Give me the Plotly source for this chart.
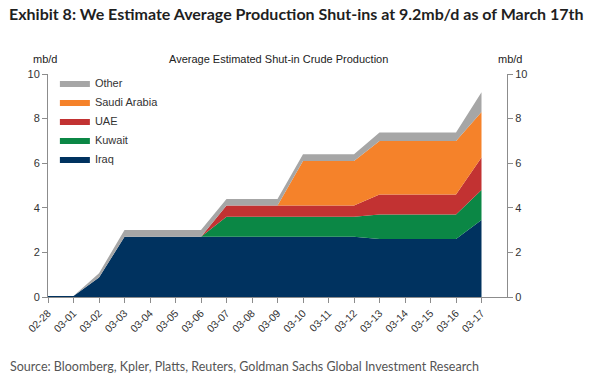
import plotly.graph_objects as go

dates = ["02-28", "03-01", "03-02", "03-03", "03-04", "03-05", "03-06", "03-07", "03-08",
         "03-09", "03-10", "03-11", "03-12", "03-13", "03-14", "03-15", "03-16", "03-17"]
iraq = [0.05, 0.05, 0.87, 2.7, 2.7, 2.7, 2.7, 2.7, 2.7, 2.7, 2.7, 2.7, 2.7, 2.6, 2.6, 2.6, 2.6, 3.45]
kuwait = [0, 0, 0, 0, 0, 0, 0, 0.9, 0.9, 0.9, 0.9, 0.9, 0.9, 1.1, 1.1, 1.1, 1.1, 1.35]
uae = [0, 0, 0, 0, 0, 0, 0, 0.5, 0.5, 0.5, 0.5, 0.5, 0.5, 0.9, 0.9, 0.9, 0.9, 1.45]
saudi = [0, 0, 0, 0, 0, 0, 0, 0, 0, 0, 2.0, 2.0, 2.0, 2.4, 2.4, 2.4, 2.4, 2.05]
other = [0, 0, 0.2, 0.3, 0.3, 0.3, 0.3, 0.3, 0.3, 0.3, 0.3, 0.3, 0.3, 0.38, 0.38, 0.38, 0.38, 0.88]

series = [
    ("Iraq", iraq, "#00325F"),
    ("Kuwait", kuwait, "#0B8745"),
    ("UAE", uae, "#C23232"),
    ("Saudi Arabia", saudi, "#F5822A"),
    ("Other", other, "#A6A6A6"),
]
y_ticks = [0, 2, 4, 6, 8, 10]

fig = go.Figure()
for name, vals, col in series:
    fig.add_trace(go.Scatter(
        x=dates, y=vals, name=name, stackgroup="one", mode="lines",
        line=dict(width=0, color=col), fillcolor=col,
    ))
# invisible trace for right axis
fig.add_trace(go.Scatter(x=dates, y=[None] * len(dates), yaxis="y2", showlegend=False,
                         hoverinfo="skip"))

FONT = "Liberation Sans, Arial, sans-serif"
axis_font = dict(family=FONT, size=11, color="#333333")
W, H = 603, 386
l, r, t, b = 48, 96, 74, 89
pw, ph = W - l - r, H - t - b

fig.update_layout(
    width=W, height=H,
    margin=dict(l=l, r=r, t=t, b=b, autoexpand=False),
    paper_bgcolor="white", plot_bgcolor="white",
    showlegend=True,
    legend=dict(
        x=0.015, y=1.025, xanchor="left", yanchor="top",
        traceorder="reversed", font=dict(family=FONT, size=11, color="#333333"),
        bgcolor="rgba(0,0,0,0)", itemwidth=30, tracegroupgap=0,
    ),
    xaxis=dict(
        type="category", range=[0, 18], showgrid=False, zeroline=False, automargin=False,
        showline=True, linecolor="#8c8c8c", linewidth=1,
        ticks="outside", ticklen=5, tickcolor="#8c8c8c",
        tickangle=-45, tickfont=dict(family=FONT, size=10.5, color="#333333"),
    ),
    yaxis=dict(
        range=[0, 10], tickvals=y_ticks, showgrid=False, zeroline=False, automargin=False,
        showline=True, linecolor="#8c8c8c", linewidth=1,
        ticks="outside", ticklen=5, tickcolor="#8c8c8c", tickfont=axis_font,
    ),
    yaxis2=dict(
        range=[0, 10], tickvals=y_ticks, overlaying="y", side="right", automargin=False,
        showgrid=False, zeroline=False,
        showline=True, linecolor="#8c8c8c", linewidth=1,
        ticks="outside", ticklen=5, tickcolor="#8c8c8c", tickfont=axis_font,
    ),
)


def px(xp):
    return (xp - l) / pw


def py(yp):
    return (H - b - yp) / ph


fig.add_annotation(text="<b>Exhibit 8: We Estimate Average Production Shut-ins at 9.2mb/d as of March 17th</b>",
                   xref="paper", yref="paper", x=px(7), y=py(14), xanchor="left", yanchor="middle",
                   showarrow=False, font=dict(family="Lato, sans-serif", size=16, color="#1f1f1f"))
fig.add_annotation(text="Average Estimated Shut-in Crude Production",
                   xref="paper", yref="paper", x=px(278), y=py(59), xanchor="center", yanchor="middle",
                   showarrow=False, font=dict(family=FONT, size=11, color="#222222"))
fig.add_annotation(text="mb/d", xref="paper", yref="paper", x=px(45), y=py(59), xanchor="center",
                   yanchor="middle", showarrow=False, font=dict(family=FONT, size=11, color="#222222"))
fig.add_annotation(text="mb/d", xref="paper", yref="paper", x=px(510), y=py(59), xanchor="center",
                   yanchor="middle", showarrow=False, font=dict(family=FONT, size=11, color="#222222"))
fig.add_annotation(text="Source: Bloomberg, Kpler, Platts, Reuters, Goldman Sachs Global Investment Research",
                   xref="paper", yref="paper", x=px(8), y=py(366), xanchor="left", yanchor="middle",
                   showarrow=False, font=dict(family="Lato, sans-serif", size=12.5, color="#555555"))

fig.write_html("out.html", config={"displayModeBar": False},
               post_script="document.body.style.margin='0';")
